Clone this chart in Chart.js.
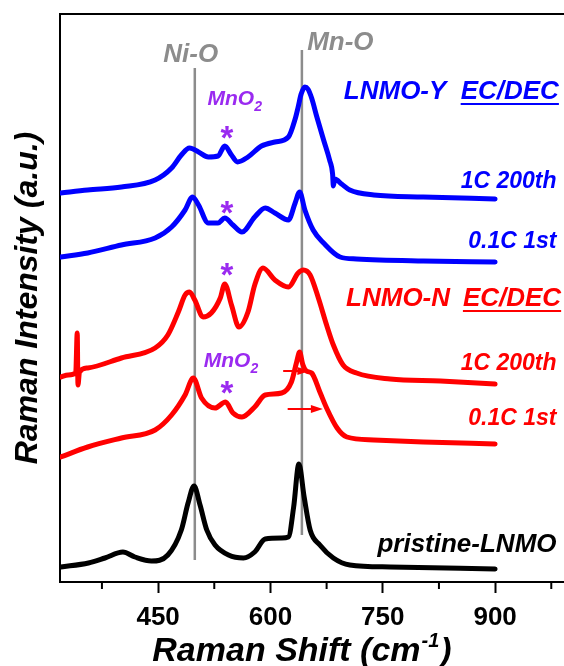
<!DOCTYPE html>
<html>
<head>
<meta charset="utf-8">
<script src="https://cdn.jsdelivr.net/npm/chart.js@4"></script>
<style>
  html, body { margin: 0; padding: 0; background: #fff; overflow: hidden; }
  #wrap { width: 564px; height: 666px; overflow: hidden; }
</style>
</head>
<body>
<div id="wrap"><canvas id="ramanChart" width="580" height="666"></canvas></div>
<script>
// Raman shift (cm-1) and intensity (a.u., offset stacked)
const ly200Shift = [320, 356, 401, 446, 468, 481, 492, 504, 517, 530, 539, 548, 556, 570, 588, 606, 624, 633, 637, 641, 646, 650, 655, 662, 671, 679, 683, 684, 686, 695, 706, 738, 804, 900];
const ly200Int = [389, 392, 395, 402, 414, 427, 434, 430, 425, 426, 436, 427, 420, 425, 436, 440, 445, 463, 475, 488, 495, 493, 484, 465, 442, 422, 408, 396, 403, 398, 392, 387, 385, 383];

const ly1Shift = [320, 356, 401, 446, 468, 486, 496, 504, 517, 530, 539, 550, 562, 579, 593, 606, 624, 633, 639, 646, 657, 671, 693, 715, 804, 900];
const ly1Int = [325, 329, 337, 344, 355, 372, 385, 377, 359, 359, 364, 357, 350, 365, 374, 369, 362, 379, 390, 372, 352, 339, 325, 323, 321, 320];

const ln200Shift = [320, 330, 340, 342, 343, 345, 356, 401, 446, 463, 477, 486, 492, 499, 510, 521, 533, 539, 548, 558, 570, 579, 590, 606, 624, 637, 644, 653, 664, 675, 684, 697, 715, 760, 827, 900];
const ln200Int = [205, 207, 209, 249, 197, 210, 214, 224, 234, 247, 270, 287, 290, 282, 265, 269, 284, 298, 277, 255, 270, 297, 314, 302, 295, 309, 312, 307, 284, 257, 237, 217, 209, 203, 201, 198];

const ln1Shift = [320, 356, 401, 446, 468, 486, 497, 508, 526, 540, 550, 562, 579, 593, 615, 628, 635, 639, 643, 648, 655, 666, 675, 689, 702, 738, 804, 900];
const ln1Int = [125, 135, 144, 152, 167, 187, 204, 184, 174, 180, 169, 165, 175, 187, 189, 200, 220, 230, 218, 211, 209, 190, 174, 154, 145, 142, 140, 138];

const pristShift = [320, 357, 379, 403, 419, 441, 463, 481, 490, 498, 506, 515, 526, 544, 564, 579, 593, 615, 624, 631, 638, 645, 653, 666, 684, 706, 760, 900];
const pristInt = [15, 19, 24, 30, 25, 21, 27, 52, 79, 96, 77, 52, 37, 27, 24, 30, 43, 44, 45, 75, 118, 85, 52, 37, 24, 17, 15, 13];

// reference lines for Ni-O and Mn-O bands
const niOShift = [499, 499];
const niOInt = [22, 514];
const mnOShift = [642, 642];
const mnOInt = [47, 532];

const majorTicks = [450, 600, 750, 900];
const minorTicks = [375, 525, 675, 825, 975];

const FONT = "'Liberation Sans', Arial, sans-serif";
const BLUE = '#0000ff', RED = '#ff0000', PURPLE = '#9a2af0', GRAY = '#8c8c8c';

function pts(xs, ys) {
	return xs.map((v, i) => ({ x: v, y: ys[i] }));
}

const annotations = {
	id: 'annotations',
	afterDatasetsDraw(chart) {
		const { ctx, chartArea: a, scales: { x, y } } = chart;
		const px = (v) => x.getPixelForValue(v);
		const py = (v) => y.getPixelForValue(v);
		ctx.save();

		// top of the frame
		ctx.strokeStyle = '#000';
		ctx.lineWidth = 2;
		ctx.beginPath();
		ctx.moveTo(a.left, a.top);
		ctx.lineTo(a.right + 10, a.top);
		ctx.stroke();

		// minor ticks
		minorTicks.forEach((v) => {
			ctx.beginPath();
			ctx.moveTo(px(v), a.bottom);
			ctx.lineTo(px(v), a.bottom + 7);
			ctx.stroke();
		});

		function text(str, v, val, color, size, align, italic) {
			ctx.font = (italic === false ? '' : 'italic ') + 'bold ' + size + 'px ' + FONT;
			ctx.fillStyle = color;
			ctx.textAlign = align || 'left';
			ctx.textBaseline = 'alphabetic';
			ctx.fillText(str, px(v), py(val));
			return ctx.measureText(str).width;
		}
		function underlined(str, v, val, color, size) {
			const w = text(str, v, val, color, size);
			ctx.strokeStyle = color;
			ctx.lineWidth = 2;
			ctx.beginPath();
			ctx.moveTo(px(v), py(val) + 5);
			ctx.lineTo(px(v) + w, py(val) + 5);
			ctx.stroke();
		}
		function mno2(v, val) {
			const w = text('MnO', v, val, PURPLE, 21);
			ctx.font = 'italic bold 14px ' + FONT;
			ctx.fillText('2', px(v) + w, py(val) + 6);
		}
		function star(v, val) {
			ctx.font = 'bold 33px ' + FONT;
			ctx.fillStyle = PURPLE;
			ctx.textAlign = 'center';
			ctx.fillText('*', px(v), py(val) + 19);
		}
		function arrow(v0, v1, val) {
			const x0 = px(v0), x1 = px(v1), yy = py(val);
			ctx.strokeStyle = RED;
			ctx.fillStyle = RED;
			ctx.lineWidth = 2;
			ctx.beginPath();
			ctx.moveTo(x0, yy);
			ctx.lineTo(x1 - 10, yy);
			ctx.stroke();
			ctx.beginPath();
			ctx.moveTo(x1, yy);
			ctx.lineTo(x1 - 12, yy - 4);
			ctx.lineTo(x1 - 12, yy + 4);
			ctx.closePath();
			ctx.fill();
		}

		text('Ni-O', 457, 520, GRAY, 26);
		text('Mn-O', 649, 532, GRAY, 26);

		mno2(516, 477);
		mno2(511, 215);
		star(542, 452);
		star(542, 377);
		star(542, 315);
		star(542, 197);

		text('LNMO-Y', 698, 483, BLUE, 26);
		underlined('EC/DEC', 854, 483, BLUE, 26);
		text('1C 200th', 982, 394, BLUE, 23, 'right');
		text('0.1C 1st', 982, 334, BLUE, 23, 'right');

		text('LNMO-N', 701, 276, RED, 26);
		underlined('EC/DEC', 857, 276, RED, 26);
		text('1C 200th', 982, 212, RED, 23, 'right');
		text('0.1C 1st', 982, 157, RED, 23, 'right');

		text('pristine-LNMO', 982, 30, '#000', 26, 'right');

		arrow(617, 652, 211);
		arrow(623, 670, 173);

		// axis titles
		ctx.fillStyle = '#000';
		ctx.textAlign = 'left';
		ctx.font = 'italic bold 34px ' + FONT;
		const t1 = 'Raman Shift (cm';
		const w1 = ctx.measureText(t1).width;
		ctx.font = 'italic bold 20px ' + FONT;
		const w2 = ctx.measureText('-1').width;
		ctx.font = 'italic bold 34px ' + FONT;
		const w3 = ctx.measureText(')').width;
		let tx = 301 - (w1 + w2 + w3) / 2;
		const ty = 661;
		ctx.fillText(t1, tx, ty);
		ctx.font = 'italic bold 20px ' + FONT;
		ctx.fillText('-1', tx + w1 + 1, ty - 14);
		ctx.font = 'italic bold 34px ' + FONT;
		ctx.fillText(')', tx + w1 + w2 + 2, ty);

		ctx.translate(37, 298);
		ctx.rotate(-Math.PI / 2);
		ctx.textAlign = 'center';
		ctx.font = 'italic bold 32px ' + FONT;
		ctx.fillText('Raman Intensity (a.u.)', 0, 0);

		ctx.restore();
	},
};

const lineStyle = { pointRadius: 0, borderWidth: 5, cubicInterpolationMode: 'monotone', borderJoinStyle: 'round', borderCapStyle: 'round' };

new Chart(document.getElementById('ramanChart'), {
	type: 'line',
	data: {
		datasets: [
			{ label: 'LNMO-Y 1C 200th', data: pts(ly200Shift, ly200Int), borderColor: BLUE, ...lineStyle },
			{ label: 'LNMO-Y 0.1C 1st', data: pts(ly1Shift, ly1Int), borderColor: BLUE, ...lineStyle },
			{ label: 'LNMO-N 1C 200th', data: pts(ln200Shift, ln200Int), borderColor: RED, ...lineStyle },
			{ label: 'LNMO-N 0.1C 1st', data: pts(ln1Shift, ln1Int), borderColor: RED, ...lineStyle },
			{ label: 'pristine-LNMO', data: pts(pristShift, pristInt), borderColor: '#000', ...lineStyle },
			{ label: 'Ni-O', data: pts(niOShift, niOInt), borderColor: GRAY, borderWidth: 2.5, pointRadius: 0, order: 1 },
			{ label: 'Mn-O', data: pts(mnOShift, mnOInt), borderColor: GRAY, borderWidth: 2.5, pointRadius: 0, order: 1 },
		],
	},
	options: {
		responsive: false,
		animation: false,
		layout: { padding: { left: 60, top: 14, right: 10, bottom: 0 } },
		plugins: {
			legend: { display: false },
			tooltip: { enabled: false },
		},
		scales: {
			x: {
				type: 'linear',
				min: 319,
				max: 1000,
				afterFit: (s) => { s.height = 84; },
				afterBuildTicks: (s) => { s.ticks = majorTicks.map((v) => ({ value: v })); },
				ticks: {
					color: '#000',
					padding: 9,
					maxRotation: 0,
					autoSkip: false,
					font: { family: FONT, size: 26, weight: 'bold' },
				},
				grid: { display: true, drawOnChartArea: false, tickLength: 11, tickWidth: 2, tickColor: '#000' },
				border: { display: true, color: '#000', width: 2 },
			},
			y: {
				min: 0,
				max: 568,
				ticks: { display: false },
				grid: { display: false },
				border: { display: true, color: '#000', width: 2 },
				afterFit: (s) => { s.width = 0; },
			},
		},
	},
	plugins: [annotations],
});
</script>
</body>
</html>
